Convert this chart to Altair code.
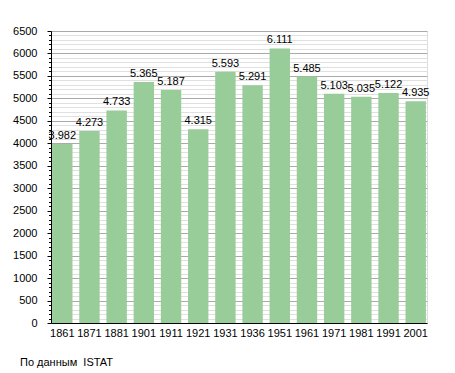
import altair as alt
import pandas as pd

years = ["1861", "1871", "1881", "1901", "1911", "1921", "1931", "1936",
         "1951", "1961", "1971", "1981", "1991", "2001"]
population = [3982, 4273, 4733, 5365, 5187, 4315, 5593, 5291,
              6111, 5485, 5103, 5035, 5122, 4935]
y_ticks = list(range(0, 6501, 100))
source_note = "По данным\u00a0 ISTAT"

df = pd.DataFrame({"year": years, "pop": population})
df["label"] = [f"{v:,}".replace(",", ".") for v in population]

FONT = "Liberation Sans"
W, H = 376, 292

x = alt.X("year:N", sort=years, title=None,
          scale=alt.Scale(paddingInner=0.25, paddingOuter=0.04),
          axis=alt.Axis(labelAngle=0, tickSize=0, labelPadding=4,
                        domainColor="black", labelFont=FONT, labelFontSize=11,
                        labelColor="black", grid=False))

y = alt.Y("pop:Q", title=None,
          scale=alt.Scale(domain=[0, 6500], nice=False, zero=True),
          axis=alt.Axis(values=y_ticks, format="d", labelOverlap=False,
                        labelExpr="datum.value % 500 === 0 ? datum.label : ''",
                        grid=True,
                        gridColor={"condition": {"test": "datum.value % 500 === 0", "value": "#aaaaaa"}, "value": "#e0e0e0"},
                        tickSize={"condition": {"test": "datum.value % 500 === 0", "value": 4}, "value": 2.5},
                        tickColor="black", domainColor="black",
                        labelPadding=10, labelFont=FONT, labelFontSize=11,
                        labelColor="black"))

base = alt.Chart(df).encode(x=x, y=y)
bars = base.mark_bar(color="#98cc98")
text = base.mark_text(baseline="bottom", dy=-3, font=FONT,
                      fontSize=11, color="black").encode(text="label:N")
note = alt.Chart(pd.DataFrame({"t": [source_note]})).mark_text(
    align="left", baseline="middle", font=FONT, fontSize=11, color="black"
).encode(x=alt.value(-31), y=alt.value(H + 40), text="t:N")

chart = alt.layer(bars, text, note).properties(
    width=W, height=H,
    autosize=alt.AutoSizeParams(type="none"),
    padding={"left": 43, "top": 23, "right": 18, "bottom": 48},
).configure_view(stroke=None).configure(background="white")

chart.save("out.html", embed_options={"renderer": "svg", "actions": False})
